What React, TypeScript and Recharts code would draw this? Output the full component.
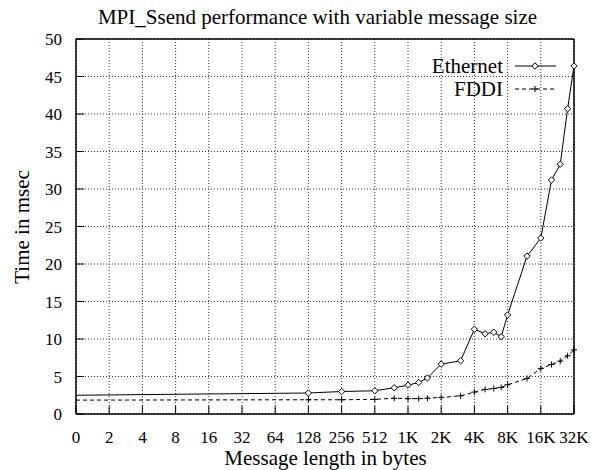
import * as React from "react"
import {
  LineChart,
  Line,
  XAxis,
  YAxis,
  CartesianGrid,
  Legend,
} from "recharts"

// message size in bytes (the "0" tick sits at 1 byte on the log axis)
const SIZES = [
  1, 128, 256, 512, 768, 1024, 1280, 1536, 2048, 3072, 4096, 5120, 6144, 7168,
  8192, 12288, 16384, 20480, 24576, 28672, 32768,
]
const ETHERNET = [
  2.5, 2.8, 3.0, 3.1, 3.5, 3.85, 4.2, 4.8, 6.65, 7.1, 11.3, 10.7, 10.9, 10.3,
  13.2, 21.05, 23.45, 31.2, 33.3, 40.7, 46.4,
]
const FDDI = [
  1.85, 1.9, 1.9, 1.95, 2.1, 2.05, 2.05, 2.1, 2.2, 2.43, 2.92, 3.28, 3.4, 3.55,
  3.9, 4.74, 6.07, 6.6, 7.05, 7.76, 8.55,
]

const X_TICKS = [1, 2, 4, 8, 16, 32, 64, 128, 256, 512, 1024, 2048, 4096, 8192, 16384, 32768]
const X_LABELS = ["0", "2", "4", "8", "16", "32", "64", "128", "256", "512", "1K", "2K", "4K", "8K", "16K", "32K"]
const Y_TICKS = [0, 5, 10, 15, 20, 25, 30, 35, 40, 45, 50]

const data = SIZES.map((size, i) => ({ size, ethernet: ETHERNET[i], fddi: FDDI[i] }))

const FONT = "'Liberation Serif', 'DejaVu Serif', serif"
const INK = "#000"

function Diamond({ cx, cy }: { cx: number; cy: number }) {
  return (
    <path
      d={`M${cx},${cy - 3.2}L${cx + 3.2},${cy}L${cx},${cy + 3.2}L${cx - 3.2},${cy}Z`}
      fill="#fff"
      stroke={INK}
      strokeWidth={1}
    />
  )
}

function Plus({ cx, cy }: { cx: number; cy: number }) {
  return (
    <path
      d={`M${cx - 3},${cy}L${cx + 3},${cy}M${cx},${cy - 3}L${cx},${cy + 3}`}
      stroke={INK}
      strokeWidth={1}
      fill="none"
    />
  )
}

const diamondDot = (p: any) =>
  p.index === 0 ? <g key={p.index} /> : <Diamond key={p.index} cx={p.cx} cy={p.cy} />
const plusDot = (p: any) =>
  p.index === 0 ? <g key={p.index} /> : <Plus key={p.index} cx={p.cx} cy={p.cy} />

function BottomTick({ x, y, payload }: any) {
  const i = X_TICKS.indexOf(payload.value)
  return (
    <g>
      <line x1={x} y1={y} x2={x} y2={y - 8} stroke={INK} />
      <text x={x} y={y + 29} textAnchor="middle" fontFamily={FONT} fontSize={17} fill={INK}>
        {X_LABELS[i]}
      </text>
    </g>
  )
}

function TopTick({ x, y }: any) {
  return <line x1={x} y1={y} x2={x} y2={y + 8} stroke={INK} />
}

function LeftTick({ x, y, payload }: any) {
  return (
    <g>
      <line x1={x} y1={y} x2={x + 8} y2={y} stroke={INK} />
      <text x={x - 14} y={y + 6} textAnchor="end" fontFamily={FONT} fontSize={17} fill={INK}>
        {payload.value}
      </text>
    </g>
  )
}

function RightTick({ x, y }: any) {
  return <line x1={x} y1={y} x2={x - 8} y2={y} stroke={INK} />
}

function KeyBox() {
  const rows = [
    { name: "Ethernet", dash: undefined, Mark: Diamond },
    { name: "FDDI", dash: "4 3", Mark: Plus },
  ]
  return (
    <svg width={200} height={50} style={{ display: "block" }}>
      {rows.map((r, i) => {
        const cy = 12 + i * 23
        return (
          <g key={r.name}>
            <text x={103} y={cy + 7} textAnchor="end" fontFamily={FONT} fontSize={21} fill={INK}>
              {r.name}
            </text>
            <line x1={115} y1={cy} x2={156} y2={cy} stroke={INK} strokeDasharray={r.dash} />
            <r.Mark cx={135} cy={cy} />
          </g>
        )
      })}
    </svg>
  )
}

export default function App() {
  return (
    <div
      style={{
        position: "absolute",
        left: 0,
        top: 0,
        width: 591,
        height: 470,
        background: "#fff",
        fontFamily: FONT,
        color: INK,
      }}
    >
      <div
        style={{
          position: "absolute",
          top: 5,
          left: 68,
          width: 499,
          textAlign: "center",
          fontSize: 21,
          lineHeight: "24px",
          whiteSpace: "nowrap",
        }}
      >
        MPI_Ssend performance with variable message size
      </div>
      <div
        style={{
          position: "absolute",
          left: 22,
          top: 227,
          transform: "translate(-50%, -50%) rotate(-90deg)",
          fontSize: 21,
          lineHeight: "24px",
          whiteSpace: "nowrap",
        }}
      >
        Time in msec
      </div>
      <div
        style={{
          position: "absolute",
          top: 449,
          left: 76,
          width: 499,
          textAlign: "center",
          fontSize: 21,
          lineHeight: "18px",
          whiteSpace: "nowrap",
        }}
      >
        Message length in bytes
      </div>

      <LineChart
        width={591}
        height={470}
        data={data}
        margin={{ top: 38, right: 16, bottom: 16, left: 36 }}
      >
        <CartesianGrid stroke="#333" strokeDasharray="1 2" syncWithTicks />
        <XAxis
          dataKey="size"
          type="number"
          scale="log"
          domain={[1, 32768]}
          ticks={X_TICKS}
          interval={0}
          tickSize={0}
          tickMargin={0}
          tick={<BottomTick />}
          axisLine={{ stroke: INK, strokeWidth: 1.5 }}
          tickLine={false}
          height={40}
        />
        <XAxis
          xAxisId="top"
          orientation="top"
          type="number"
          scale="log"
          domain={[1, 32768]}
          ticks={X_TICKS}
          interval={0}
          tickSize={0}
          tickMargin={0}
          tick={<TopTick />}
          axisLine={{ stroke: INK, strokeWidth: 1.5 }}
          tickLine={false}
          height={1}
        />
        <YAxis
          type="number"
          domain={[0, 50]}
          ticks={Y_TICKS}
          interval={0}
          width={40}
          tickSize={0}
          tickMargin={0}
          tick={<LeftTick />}
          axisLine={{ stroke: INK, strokeWidth: 1.5 }}
          tickLine={false}
        />
        <YAxis
          yAxisId="right"
          orientation="right"
          type="number"
          domain={[0, 50]}
          ticks={Y_TICKS}
          interval={0}
          width={1}
          tickSize={0}
          tickMargin={0}
          tick={<RightTick />}
          axisLine={{ stroke: INK, strokeWidth: 1.5 }}
          tickLine={false}
        />
        <Legend
          layout="vertical"
          align="center"
          verticalAlign="middle"
          wrapperStyle={{ position: "absolute", left: 400, top: 54, width: 200 }}
          content={() => <KeyBox />}
        />
        <Line
          dataKey="ethernet"
          name="Ethernet"
          type="linear"
          stroke={INK}
          strokeWidth={1}
          dot={diamondDot}
          isAnimationActive={false}
        />
        <Line
          dataKey="fddi"
          name="FDDI"
          type="linear"
          stroke={INK}
          strokeWidth={1}
          strokeDasharray="4 3"
          dot={plusDot}
          isAnimationActive={false}
        />
      </LineChart>
    </div>
  )
}
